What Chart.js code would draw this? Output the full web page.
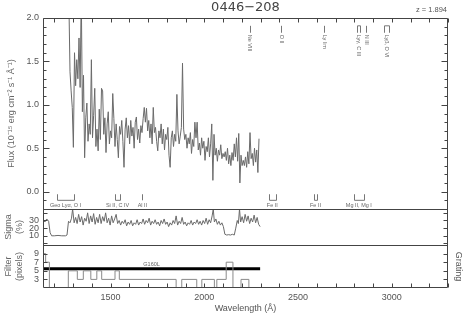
<!DOCTYPE html>
<html><head><meta charset="utf-8">
<script src="https://cdn.jsdelivr.net/npm/chart.js@4.4.1/dist/chart.umd.min.js"></script>
<style>html,body{margin:0;padding:0;background:#fff}</style>
</head><body>
<canvas id="c" width="468" height="318" style="display:block;width:468px;height:318px"></canvas>
<script>
// ---------- data ----------
const fluxWave = [1272,1278,1284,1290,1296,1302,1308,1314,1320,1326,1332,1338,1344,1350,1356,1362,1368,1374,1380,1386,1392,1398,1404,1410,1416,1422,1428,1434,1440,1446,1452,1458,1464,1470,1476,1482,1488,1494,1500,1506,1512,1518,1524,1530,1536,1542,1548,1554,1560,1566,1572,1578,1584,1590,1596,1602,1608,1614,1620,1626,1632,1638,1644,1650,1656,1662,1668,1674,1680,1686,1692,1698,1704,1710,1716,1722,1728,1734,1740,1746,1752,1758,1764,1770,1776,1782,1788,1794,1800,1806,1812,1818,1824,1830,1836,1842,1848,1854,1860,1866,1872,1878,1884,1890,1896,1902,1908,1914,1920,1926,1932,1938,1944,1950,1956,1962,1968,1974,1980,1986,1992,1998,2004,2010,2016,2022,2028,2034,2040,2046,2052,2058,2064,2070,2076,2082,2088,2094,2100,2106,2112,2118,2124,2130,2136,2142,2148,2154,2160,2166,2172,2178,2184,2190,2196,2202,2208,2214,2220,2226,2232,2238,2244,2250,2256,2262,2268,2274,2280,2286,2292];
const fluxValue = [2.50,2.20,1.38,1.16,0.97,0.51,1.60,1.22,1.52,1.30,1.77,1.20,2.30,0.92,1.34,0.39,0.85,1.02,0.58,0.78,0.66,1.52,0.62,0.88,1.19,0.52,0.72,0.47,0.95,0.60,1.19,1.16,0.66,0.85,0.45,0.78,0.92,0.55,0.70,0.62,1.13,0.84,0.52,0.78,0.60,0.39,0.75,0.66,0.82,0.58,0.28,0.72,0.85,0.62,0.76,0.55,0.82,0.64,0.74,0.50,0.80,0.86,0.60,0.72,0.56,0.76,0.68,0.84,0.97,0.80,0.96,0.70,0.82,0.62,0.78,0.55,0.97,0.68,0.74,0.58,0.47,0.70,0.62,0.78,0.55,0.72,0.48,0.66,0.60,0.74,0.42,0.28,0.62,0.70,0.52,0.66,0.58,1.12,0.70,0.55,0.64,0.74,1.48,0.72,0.60,0.66,0.50,0.62,0.55,0.68,0.44,0.60,0.52,0.80,0.62,0.80,0.48,0.56,0.42,0.62,0.50,0.58,0.36,0.52,0.46,0.62,0.40,0.55,0.78,0.13,0.66,0.42,0.50,0.35,0.48,0.42,0.54,0.38,0.44,0.40,0.46,0.36,0.50,0.32,0.42,0.30,0.45,0.36,0.55,0.40,0.62,0.35,0.67,0.10,0.42,0.30,0.36,0.30,0.40,0.28,0.46,0.32,0.68,0.38,0.44,0.30,0.50,0.34,0.48,0.22,0.61];

const sigmaWave = [1140,1150,1160,1170,1178,1186,1200,1220,1240,1260,1268,1276,1284,1292,1298,1306,1314,1322,1330,1338,1346,1354,1362,1370,1378,1386,1394,1402,1410,1418,1426,1434,1442,1450,1458,1466,1474,1482,1490,1498,1506,1514,1522,1530,1538,1546,1554,1562,1570,1578,1586,1594,1602,1610,1618,1626,1634,1642,1650,1658,1666,1674,1682,1690,1698,1706,1714,1722,1730,1738,1746,1754,1762,1770,1778,1786,1794,1802,1810,1818,1826,1834,1842,1850,1858,1866,1874,1882,1890,1898,1906,1914,1922,1930,1938,1946,1954,1962,1970,1978,1986,1994,2002,2010,2018,2026,2034,2042,2048,2054,2062,2070,2078,2086,2094,2102,2110,2120,2130,2140,2150,2160,2168,2176,2182,2188,2194,2202,2210,2218,2226,2234,2242,2250,2258,2266,2274,2282,2290,2298];
const sigmaValue = [31,28,32,29,14,10,10,10.5,10,10,11,29,27,33,45,27,34,26,38,28,35,24,33,29,40,26,36,28,39,25,34,27,38,26,35,29,40,27,33,24,36,27,32,38,26,30,24,29,26,31,23,28,25,30,23,27,25,31,24,28,26,32,25,30,27,33,24,29,26,31,25,28,23,30,26,32,25,28,22,27,24,30,26,36,24,29,26,34,25,28,23,27,25,30,24,28,26,31,25,29,24,30,26,33,25,31,27,36,45,28,32,25,29,24,27,22,12,11,11.5,11,12,11,20,30,26,45,28,35,27,38,29,36,26,33,28,37,27,34,25,22];

const filterWave  = [1140,1154,1174,1275,1323,1355,1395,1427,1453,1524,1547,1850,1880,1960,1987,2054,2067,2117,2153,2196,2238,2298];
const filterValue = [9,7,1,5,3,5,3,5,3,5,3,1,3,1,3,1,3,7,1,3,1,1];

const gratingName  = 'G160L';
const gratingWave  = [1140, 2298];
const gratingLevel = [5.5, 5.5];

const xTicks      = [1500, 2000, 2500, 3000];
const fluxTicks   = [0.0, 0.5, 1.0, 1.5, 2.0];
const sigmaTicks  = [10, 20, 30];
const filterTicks = [3, 5, 7, 9];

const qsoNames = ['Ne VIII', 'O II', 'Ly lim', 'Lyγ, C III', 'N III', 'Lyβ, O VI'];
const qsoWaves = [[2242], [2411], [2640], [2814, 2828], [2865], [2958, 2986]];
const ismNames = ['Geo Lyα, O I', 'Si II, C IV', 'Al II', 'Fe II', 'Fe II', 'Mg II, Mg I'];
const ismWaves = [[1216, 1304], [1526, 1549], [1670], [2344, 2382], [2586, 2600], [2796, 2853]];

const titleText = '0446\u2212208';
const redshiftText = 'z = 1.894';

// ---------- chart ----------
const FONT = '"Liberation Sans", Arial, sans-serif';
const TXT = '#555';
const pts = (xs, ys) => xs.map((x, i) => ({x: x, y: ys[i]}));

function yAxis(extra) {
  return Object.assign({
    type: 'linear', position: 'left', stack: 'v',
    grid: {display: false, drawTicks: false}, border: {display: false},
    afterFit: s => { s.width = 43; }
  }, extra);
}

const framePlugin = {
  id: 'frame',
  afterDatasetsDraw(chart) {
    const ctx = chart.ctx;
    const xs = chart.scales.x, yF = chart.scales.yFlux, yS = chart.scales.ySig, yP = chart.scales.yFil;
    const L = Math.round(xs.left) + 0.5, R = Math.round(xs.right) - 0.5;
    const T = Math.round(yF.top) + 0.5, B = Math.round(yP.bottom) - 0.5;
    const s1 = Math.round(yF.bottom) + 0.5, s2 = Math.round(yS.bottom) + 0.5;
    ctx.save();
    ctx.strokeStyle = '#444';
    ctx.lineWidth = 1;
    ctx.beginPath();
    ctx.rect(L, T, R - L, B - T);
    ctx.moveTo(L, s1); ctx.lineTo(R, s1);
    ctx.moveTo(L, s2); ctx.lineTo(R, s2);
    // wavelength ticks every 100 A
    for (let w = 1200; w <= 3300; w += 100) {
      const px = Math.round(xs.getPixelForValue(w)) + 0.5;
      ctx.moveTo(px, T); ctx.lineTo(px, T + 4);
      ctx.moveTo(px, B); ctx.lineTo(px, B - 4);
    }
    // flux ticks
    for (let k = -2; k <= 20; k++) {
      const py = Math.round(yF.getPixelForValue(k / 10)) + 0.5;
      const len = (k % 5 === 0) ? 6 : 3;
      ctx.moveTo(L, py); ctx.lineTo(L + len, py);
      ctx.moveTo(R, py); ctx.lineTo(R - len, py);
    }
    // sigma ticks
    for (let v = 0; v <= 40; v += 10) {
      const py = Math.round(yS.getPixelForValue(v)) + 0.5;
      ctx.moveTo(L, py); ctx.lineTo(L + 4, py);
      ctx.moveTo(R, py); ctx.lineTo(R - 4, py);
    }
    // filter ticks
    for (let v = 3; v <= 9; v += 2) {
      const py = Math.round(yP.getPixelForValue(v)) + 0.5;
      ctx.moveTo(L, py); ctx.lineTo(L + 4, py);
      ctx.moveTo(R, py); ctx.lineTo(R - 4, py);
    }
    ctx.stroke();

    // line identifications
    ctx.strokeStyle = '#777';
    ctx.fillStyle = '#666';
    ctx.font = '5.5px ' + FONT;
    ctx.beginPath();
    const yT1 = yF.getPixelForValue(1.91), yT2 = yF.getPixelForValue(1.83);
    qsoWaves.forEach((ws, i) => {
      const px = ws.map(w => Math.round(xs.getPixelForValue(w)) + 0.5);
      px.forEach(p => { ctx.moveTo(p, yT1); ctx.lineTo(p, yT2); });
      if (px.length > 1) { ctx.moveTo(px[0], yT1); ctx.lineTo(px[px.length - 1], yT1); }
    });
    const yB1 = yF.getPixelForValue(-0.03), yB2 = yF.getPixelForValue(-0.10);
    ismWaves.forEach((ws, i) => {
      const px = ws.map(w => Math.round(xs.getPixelForValue(w)) + 0.5);
      px.forEach(p => { ctx.moveTo(p, yB1); ctx.lineTo(p, yB2); });
      if (px.length > 1) { ctx.moveTo(px[0], yB2); ctx.lineTo(px[px.length - 1], yB2); }
    });
    ctx.stroke();
    qsoWaves.forEach((ws, i) => {
      const cx = ws.reduce((a, b) => a + b, 0) / ws.length;
      ctx.save();
      ctx.translate(xs.getPixelForValue(cx), yT2 + 2);
      ctx.rotate(Math.PI / 2);
      ctx.textAlign = 'left'; ctx.textBaseline = 'middle';
      ctx.fillText(qsoNames[i], 0, 0);
      ctx.restore();
    });
    const yBt = yF.getPixelForValue(-0.16);
    ctx.textAlign = 'center'; ctx.textBaseline = 'middle';
    ismWaves.forEach((ws, i) => {
      const cx = ws.reduce((a, b) => a + b, 0) / ws.length;
      ctx.fillText(ismNames[i], xs.getPixelForValue(cx), yBt);
    });
    // grating label
    const gx = (gratingWave[0] + gratingWave[gratingWave.length - 1]) / 2;
    ctx.fillText(gratingName, xs.getPixelForValue(gx), yP.getPixelForValue(gratingLevel[0]) - 4);
    ctx.restore();
  },
  afterDraw(chart) {
    const ctx = chart.ctx;
    const xs = chart.scales.x, yP = chart.scales.yFil;
    ctx.save();
    ctx.fillStyle = '#444';
    ctx.textAlign = 'center'; ctx.textBaseline = 'middle';
    ctx.font = '13px "DejaVu Sans", sans-serif';
    ctx.fillText(titleText, (xs.left + xs.right) / 2, 8);
    ctx.font = '7.5px ' + FONT;
    ctx.fillStyle = TXT;
    ctx.textAlign = 'right';
    ctx.fillText(redshiftText, xs.right - 1, 10);
    ctx.font = '9px ' + FONT;
    ctx.textAlign = 'center';
    ctx.translate(xs.right + 10, (yP.top + yP.bottom) / 2);
    ctx.rotate(Math.PI / 2);
    ctx.fillText('Grating', 0, 0);
    ctx.restore();
  }
};

const tickFont = {family: FONT, size: 9};
const titleFont = {family: FONT, size: 9, lineHeight: 1.25};

new Chart(document.getElementById('c'), {
  type: 'line',
  data: {
    datasets: [
      {data: pts(fluxWave, fluxValue), yAxisID: 'yFlux', borderColor: '#6a6a6a', borderWidth: 1, pointRadius: 0, tension: 0},
      {data: pts(sigmaWave, sigmaValue), yAxisID: 'ySig', borderColor: '#6a6a6a', borderWidth: 1, pointRadius: 0, tension: 0},
      {data: pts(filterWave, filterValue), yAxisID: 'yFil', borderColor: '#8a8a8a', borderWidth: 1, pointRadius: 0, stepped: true},
      {data: pts(gratingWave, gratingLevel), yAxisID: 'yFil', borderColor: '#000', borderWidth: 3, pointRadius: 0}
    ]
  },
  options: {
    responsive: false, animation: false, devicePixelRatio: 1,
    parsing: false, normalized: true,
    layout: {padding: {top: 18, right: 20, left: 0, bottom: 0}},
    plugins: {legend: {display: false}, tooltip: {enabled: false}, title: {display: false}},
    scales: {
      x: {
        type: 'linear', position: 'bottom', min: 1140, max: 3300,
        grid: {display: false, drawTicks: false}, border: {display: false},
        afterBuildTicks: s => { s.ticks = xTicks.map(v => ({value: v})); },
        ticks: {font: tickFont, color: TXT, padding: 4, maxRotation: 0, autoSkip: false, callback: v => String(v)},
        title: {display: true, text: 'Wavelength (Å)', font: {family: FONT, size: 9}, color: TXT, padding: {top: 0, bottom: 3.6}},
        afterFit: s => { s.height = 30; }
      },
      yFlux: yAxis({
        weight: 3, stackWeight: 191, min: -0.2, max: 2.0,
        afterBuildTicks: s => { s.ticks = fluxTicks.map(v => ({value: v})); },
        ticks: {font: tickFont, color: TXT, padding: 4, autoSkip: false, callback: v => Number(v).toFixed(1)},
        title: {display: true, text: 'Flux (10\u207B\u00B9\u2075 erg cm\u207B\u00B2 s\u207B\u00B9 \u00C5\u207B\u00B9)', font: titleFont, color: '#666', padding: {top: 6, bottom: 0}}
      }),
      ySig: yAxis({
        weight: 2, stackWeight: 36, min: -2, max: 45,
        afterBuildTicks: s => { s.ticks = sigmaTicks.map(v => ({value: v})); },
        ticks: {font: tickFont, color: TXT, padding: 4, autoSkip: false, callback: v => String(v)},
        title: {display: true, text: ['Sigma', '(%)'], font: titleFont, color: '#666', padding: {top: 3, bottom: 0}}
      }),
      yFil: yAxis({
        weight: 1, stackWeight: 43, min: 1, max: 11,
        afterBuildTicks: s => { s.ticks = filterTicks.map(v => ({value: v})); },
        ticks: {font: tickFont, color: TXT, padding: 4, autoSkip: false, callback: v => String(v)},
        title: {display: true, text: ['Filter', '(pixels)'], font: titleFont, color: '#666', padding: {top: 3, bottom: 0}}
      })
    }
  },
  plugins: [framePlugin]
});
</script>
</body></html>
